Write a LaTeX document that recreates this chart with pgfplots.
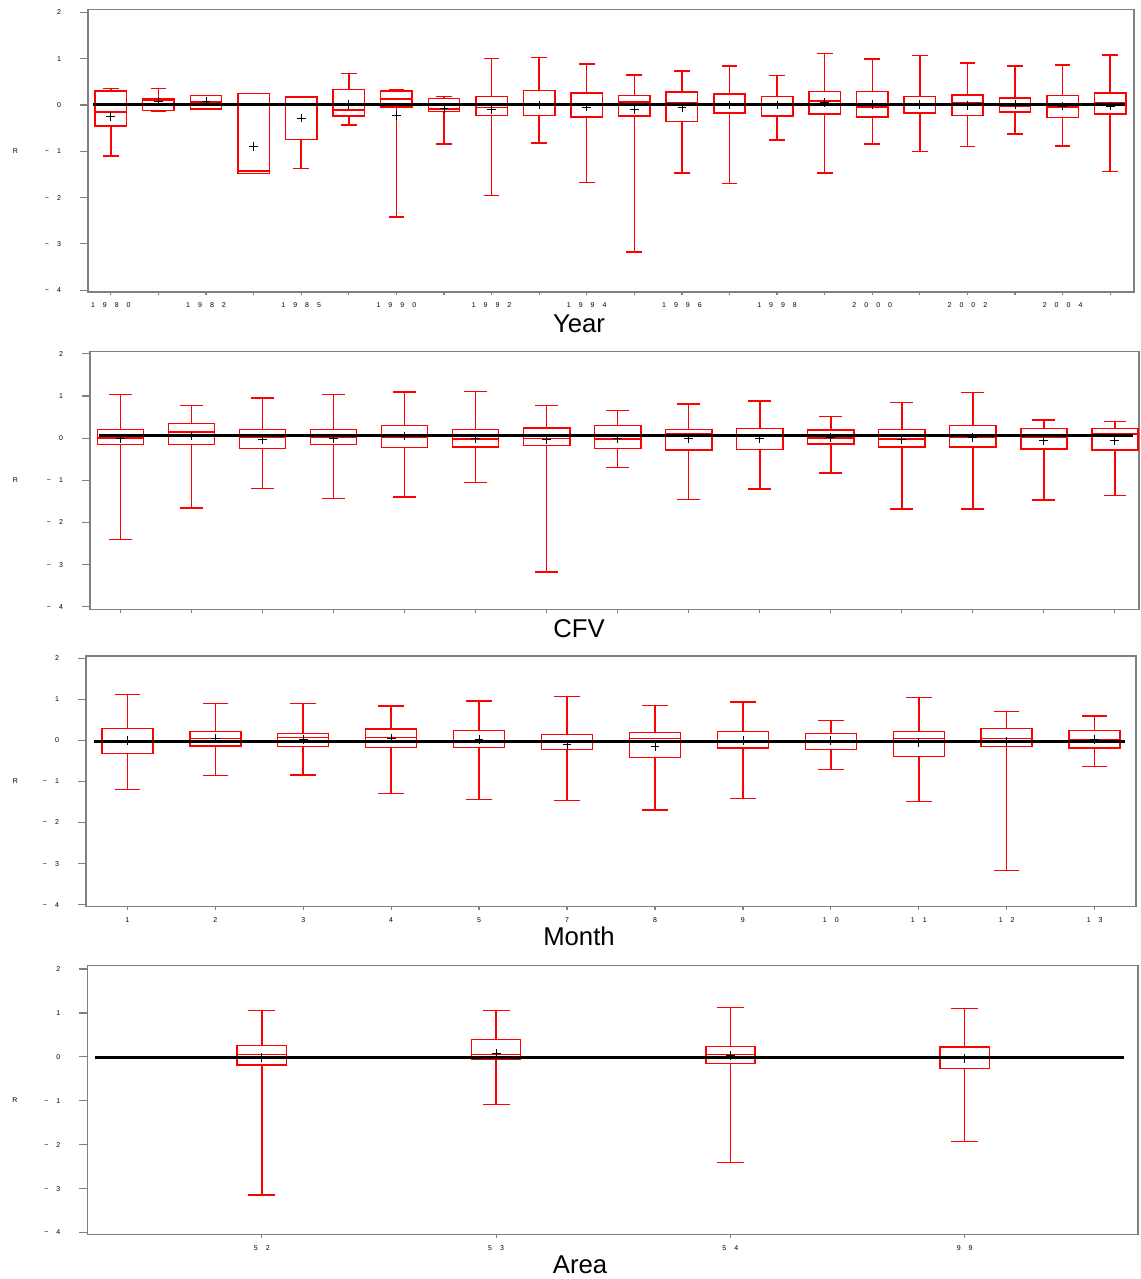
\documentclass[border=0pt]{standalone}
\usepackage{fontspec}
\setmainfont{Liberation Sans}
\usepackage{pgfplots}
\pgfplotsset{compat=1.18}
\usepgfplotslibrary{statistics}

\definecolor{axgray}{RGB}{128,128,128}
\definecolor{boxred}{RGB}{255,0,0}
\newlength\lsp \setlength\lsp{4pt}
\makeatletter
\newcommand\spc[1]{\let\spc@sep\@empty\@tfor\spc@c:=#1\do{\spc@sep\spc@c\def\spc@sep{\hspace{\lsp}}}}
\makeatother
\newcommand\tf{\fontsize{3.5}{4}\selectfont}
\newcommand\ttl{\fontsize{12.85}{14}\selectfont}
\newcommand\bx[6]{\addplot[draw=boxred, color=boxred, line width=0.75pt, boxplot prepared={draw position=#1, lower whisker=#2, lower quartile=#3, median=#4, upper quartile=#5, upper whisker=#6}] coordinates {};}

\pgfplotsset{panel/.style={scale only axis,
  axis line style={axgray, line width=0.6pt},
  tick style={axgray, line width=0.6pt},
  tick align=outside, major tick length=4pt,
  xtick pos=bottom, ytick pos=left,
  ymin=-4.05, ymax=2.07, ytick={-4,...,2},
  yticklabels={\spc{−4},\spc{−3},\spc{−2},\spc{−1},0,1,2},
  ticklabel style={font=\tf},
  yticklabel style={xshift=-6pt},
  xtick style={/pgfplots/major tick length=1.6pt},
  xticklabel style={yshift=2pt},
  boxplot/draw direction=y,
  boxplot/every box/.style={draw=boxred, line width=0.75pt},
  boxplot/every whisker/.style={draw=boxred, line width=0.75pt},
  boxplot/every median/.style={draw=boxred, line width=0.75pt},
  clip=false}}

\begin{document}
\begin{tikzpicture}
\path[use as bounding box] (0,0) rectangle (570pt,-639.5pt);

% ---------------- Year ----------------
\begin{axis}[panel, at={(44pt,-146pt)}, anchor=south west, width=523pt, height=141.35pt,
  xmin=-0.48, xmax=21.5, ymin=-4.04,
  xtick={0,...,21},
  xticklabels={\spc{1980},{},\spc{1982},{},\spc{1985},{},\spc{1990},{},\spc{1992},{},\spc{1994},{},\spc{1996},{},\spc{1998},{},\spc{2000},{},\spc{2002},{},\spc{2004},{}},
  boxplot/box extend=0.66, boxplot/whisker extend=0.33]
\bx{0}{-1.10}{-0.45}{-0.15}{0.30}{0.36}
\bx{1}{-0.13}{-0.12}{0.11}{0.14}{0.36}
\bx{2}{-0.09}{-0.09}{0.065}{0.21}{0.21}
\bx{3}{-1.48}{-1.48}{-1.43}{0.25}{0.25}
\bx{4}{-1.37}{-0.74}{0.16}{0.17}{0.19}
\bx{5}{-0.43}{-0.24}{-0.11}{0.34}{0.68}
\bx{6}{-2.42}{-0.04}{0.13}{0.30}{0.34}
\bx{7}{-0.84}{-0.14}{-0.08}{0.14}{0.19}
\bx{8}{-1.95}{-0.22}{-0.05}{0.19}{1.01}
\bx{9}{-0.82}{-0.23}{0.0}{0.31}{1.03}
\bx{10}{-1.67}{-0.26}{0.0}{0.26}{0.89}
\bx{11}{-3.18}{-0.24}{0.07}{0.21}{0.65}
\bx{12}{-1.47}{-0.35}{0.04}{0.28}{0.74}
\bx{13}{-1.69}{-0.17}{0.0}{0.24}{0.84}
\bx{14}{-0.76}{-0.24}{0.01}{0.19}{0.64}
\bx{15}{-1.47}{-0.19}{0.09}{0.29}{1.11}
\bx{16}{-0.84}{-0.26}{-0.04}{0.29}{1.00}
\bx{17}{-1.00}{-0.17}{0.01}{0.19}{1.07}
\bx{18}{-0.90}{-0.22}{0.04}{0.22}{0.91}
\bx{19}{-0.63}{-0.15}{-0.03}{0.15}{0.84}
\bx{20}{-0.88}{-0.27}{-0.04}{0.21}{0.87}
\bx{21}{-1.44}{-0.19}{0.06}{0.26}{1.08}
\addplot[black, line width=1.4pt] coordinates {(-0.37,0.01) (21.32,0.01)};
\addplot[only marks, mark=+, mark size=2.2pt, black, line width=0.4pt] coordinates {
(0,-0.24) (1,0.07) (2,0.07) (3,-0.89) (4,-0.28) (5,0.01) (6,-0.22) (7,-0.07)
(8,-0.09) (9,0.0) (10,-0.04) (11,-0.09) (12,-0.06) (13,0.0) (14,0.0) (15,0.05)
(16,0.01) (17,0.01) (18,-0.01) (19,0.01) (20,-0.02) (21,-0.02)};
\end{axis}

% ---------------- CFV ----------------
\begin{axis}[panel, at={(45pt,-304.65pt)}, anchor=south west, width=524.5pt, height=128.8pt,
  xmin=-0.43, xmax=14.34, ymin=-4.06, ymax=2.05,
  xtick={0,...,14}, xticklabels={},
  boxplot/box extend=0.65, boxplot/whisker extend=0.32]
\bx{0}{-2.41}{-0.15}{0.0}{0.21}{1.04}
\bx{1}{-1.66}{-0.15}{0.14}{0.35}{0.77}
\bx{2}{-1.19}{-0.24}{0.02}{0.21}{0.95}
\bx{3}{-1.43}{-0.15}{0.02}{0.21}{1.04}
\bx{4}{-1.40}{-0.22}{0.02}{0.30}{1.09}
\bx{5}{-1.05}{-0.21}{-0.02}{0.21}{1.11}
\bx{6}{-3.18}{-0.17}{-0.01}{0.24}{0.77}
\bx{7}{-0.70}{-0.24}{-0.02}{0.30}{0.66}
\bx{8}{-1.45}{-0.28}{0.10}{0.21}{0.81}
\bx{9}{-1.21}{-0.27}{0.09}{0.23}{0.88}
\bx{10}{-0.83}{-0.14}{0.0}{0.19}{0.51}
\bx{11}{-1.68}{-0.21}{-0.02}{0.20}{0.85}
\bx{12}{-1.68}{-0.21}{0.02}{0.30}{1.08}
\bx{13}{-1.47}{-0.26}{0.02}{0.23}{0.43}
\bx{14}{-1.36}{-0.28}{0.10}{0.23}{0.40}
\addplot[black, line width=1.4pt] coordinates {(-0.30,0.06) (14.26,0.06)};
\addplot[only marks, mark=+, mark size=2.2pt, black, line width=0.4pt] coordinates {
(0,-0.01) (1,0.05) (2,-0.03) (3,0.0) (4,0.05) (5,-0.01) (6,-0.03) (7,-0.01)
(8,-0.01) (9,-0.01) (10,0.02) (11,-0.04) (12,0.02) (13,-0.06) (14,-0.06)};
\end{axis}

% ---------------- Month ----------------
\begin{axis}[panel, at={(43pt,-453.15pt)}, anchor=south west, width=525pt, height=125.15pt,
  xmin=-0.47, xmax=11.47, ymin=-4.04, ymax=2.056,
  xtick={0,...,11},
  xticklabels={1,2,3,4,5,7,8,9,\spc{10},\spc{11},\spc{12},\spc{13}},
  boxplot/box extend=0.58, boxplot/whisker extend=0.29]
\bx{0}{-1.19}{-0.32}{0.0}{0.29}{1.12}
\bx{1}{-0.85}{-0.13}{0.05}{0.22}{0.90}
\bx{2}{-0.84}{-0.15}{0.07}{0.17}{0.90}
\bx{3}{-1.29}{-0.17}{0.07}{0.28}{0.84}
\bx{4}{-1.44}{-0.17}{0.0}{0.24}{0.96}
\bx{5}{-1.46}{-0.22}{-0.04}{0.14}{1.07}
\bx{6}{-1.69}{-0.41}{0.05}{0.19}{0.85}
\bx{7}{-1.41}{-0.19}{0.0}{0.22}{0.94}
\bx{8}{-0.71}{-0.22}{0.0}{0.17}{0.49}
\bx{9}{-1.49}{-0.39}{0.05}{0.22}{1.04}
\bx{10}{-3.17}{-0.15}{0.05}{0.29}{0.70}
\bx{11}{-0.63}{-0.19}{0.02}{0.24}{0.60}
\addplot[black, line width=1.4pt] coordinates {(-0.375,-0.025) (11.35,-0.025)};
\addplot[only marks, mark=+, mark size=2.2pt, black, line width=0.4pt] coordinates {
(0,0.0) (1,0.05) (2,0.02) (3,0.05) (4,0.02) (5,-0.10) (6,-0.15) (7,0.0)
(8,-0.01) (9,-0.06) (10,-0.03) (11,0.02)};
\end{axis}

% ---------------- Area ----------------
\begin{axis}[panel, at={(43.65pt,-617.15pt)}, anchor=south west, width=525.35pt, height=134.3pt,
  xmin=-0.745, xmax=3.74, ymin=-4.04, ymax=2.075,
  xtick={0,...,3},
  xticklabels={\spc{52},\spc{53},\spc{54},\spc{99}},
  boxplot/box extend=0.21, boxplot/whisker extend=0.115]
\bx{0}{-3.15}{-0.19}{0.05}{0.26}{1.05}
\bx{1}{-1.08}{-0.06}{0.05}{0.40}{1.05}
\bx{2}{-2.40}{-0.15}{0.05}{0.24}{1.12}
\bx{3}{-1.93}{-0.26}{0.22}{0.24}{1.10}
\addplot[black, line width=1.4pt] coordinates {(-0.714,-0.02) (3.68,-0.02)};
\addplot[only marks, mark=+, mark size=2.2pt, black, line width=0.4pt] coordinates {
(0,-0.02) (1,0.08) (2,0.03) (3,-0.04)};
\end{axis}

% ---------------- texts ----------------
\node[font=\tf] at (7.75pt,-75.3pt) {R};
\node[font=\tf] at (7.75pt,-240.25pt) {R};
\node[font=\tf] at (7.75pt,-390.6pt) {R};
\node[font=\tf] at (7.5pt,-550pt) {R};
\node[font=\ttl, anchor=base] at (289.5pt,-166pt) {Year};
\node[font=\ttl, anchor=base] at (289.5pt,-318.85pt) {CFV};
\node[font=\ttl, anchor=base] at (289.5pt,-472.5pt) {Month};
\node[font=\ttl, anchor=base] at (290pt,-636.5pt) {Area};
\end{tikzpicture}
\end{document}
